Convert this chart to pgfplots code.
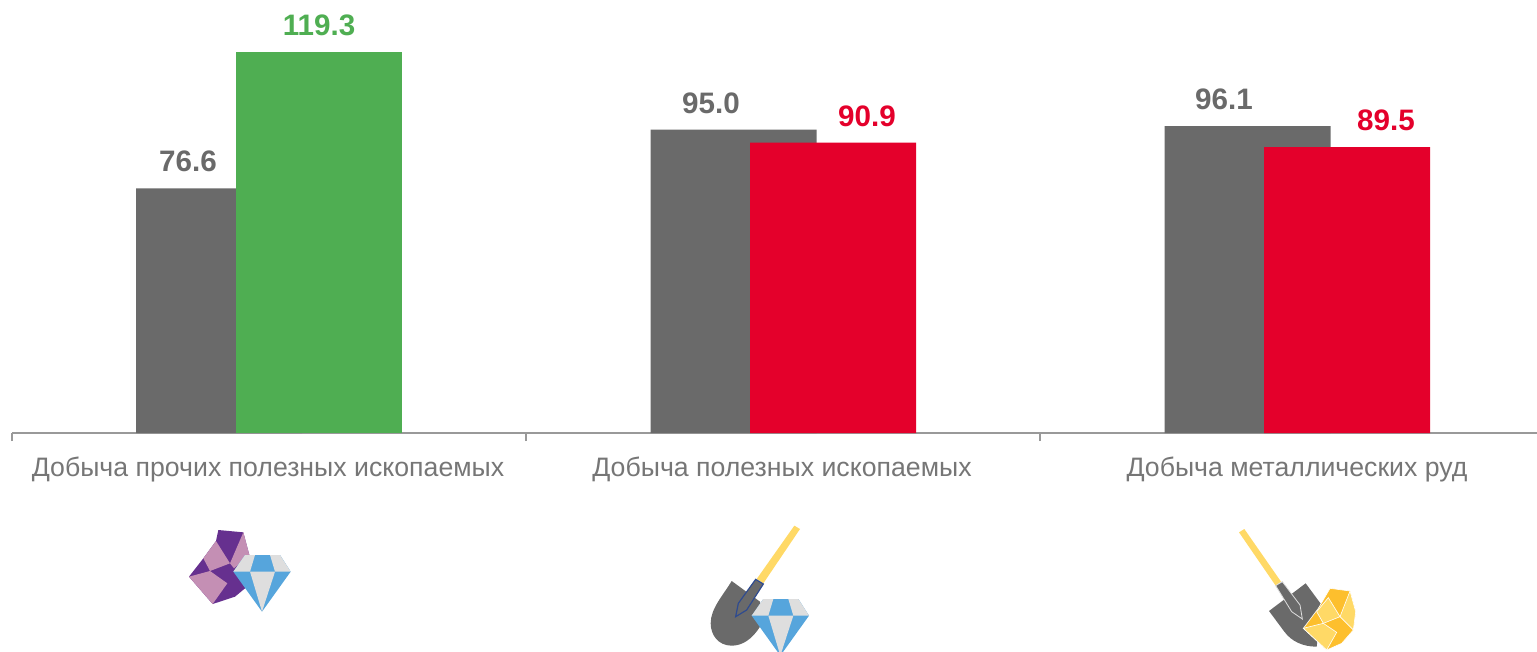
\documentclass[border=0pt]{standalone}
\usepackage{pgfplots}
\pgfplotsset{compat=1.18}
\usepackage{fontspec}
\setmainfont{Liberation Sans}
\definecolor{cgray}{HTML}{6A6A6A}
\definecolor{cgreen}{HTML}{4FAE52}
\definecolor{cred}{HTML}{E4002B}
\definecolor{ctxt}{HTML}{767676}
\definecolor{cpurple}{HTML}{66308F}
\definecolor{cpink}{HTML}{C48FB4}
\definecolor{cblue}{HTML}{56A5DC}
\definecolor{clgray}{HTML}{DEDEDE}
\definecolor{cyel}{HTML}{FFD966}
\definecolor{cgold}{HTML}{FDBF2D}
\definecolor{cnavy}{HTML}{2F4B8F}
\newcommand{\gem}[2]{%
 \begin{scope}[shift={(#1*0.5/3 pt,-#2*0.5/3 pt)}]
  \fill[cblue] (225,120)--(330,120)--(362,170)--(276,290)--(190,170)--cycle;
  \fill[clgray] (190,170)--(225,120)--(255,120)--(240,170)--cycle;
  \fill[clgray] (300,120)--(330,120)--(362,170)--(315,170)--cycle;
  \fill[clgray] (240,170)--(315,170)--(276,290)--cycle;
 \end{scope}}
\begin{document}
\begin{tikzpicture}[x=1pt,y=1pt]
\path[use as bounding box] (0,0) rectangle (768.5pt,-326pt);
\begin{axis}[
  at={(6pt,-216.5pt)}, anchor=origin, scale only axis,
  width=762.5pt, height=216.5pt,
  xmin=12, xmax=1537, ymin=0, ymax=135.6,
  clip=false,
  axis y line=none,
  axis x line*=bottom,
  axis line style={draw=black!40!white, line width=0.75pt},
  xtick={268,782,1297},
  xticklabels={Добыча прочих полезных ископаемых,Добыча полезных ископаемых,Добыча металлических руд},
  major tick length=0pt,
  minor xtick={12,526,1040},
  minor tick length=4pt,
  tick align=outside,
  minor tick style={draw=black!40!white, line width=0.6pt},
  x tick label style={font=\fontsize{13.34}{16}\selectfont, text=ctxt, yshift=-8.5pt},
  ybar, bar width=83pt, bar shift=0pt,
]
\addplot[fill=cgray, draw=none] coordinates {(219,76.6) (733.5,95.0) (1247.5,96.1)};
\addplot[fill=cgreen, draw=none] coordinates {(319,119.3)};
\addplot[fill=cred, draw=none] coordinates {(833,90.9) (1347,89.5)};
\addplot[draw=none, fill=none, nodes near coords, point meta=y,
  nodes near coords style={/pgf/number format/fixed, /pgf/number format/fixed zerofill, /pgf/number format/precision=1, /pgf/number format/assume math mode=true, font=\fontsize{14.8}{16}\selectfont\bfseries, text=cgray, anchor=south, yshift=4.6pt}]
  coordinates {(188,76.6) (711,95.0) (1224,96.1)};
\addplot[draw=none, fill=none, nodes near coords, point meta=y,
  nodes near coords style={/pgf/number format/fixed, /pgf/number format/fixed zerofill, /pgf/number format/precision=1, /pgf/number format/assume math mode=true, font=\fontsize{14.8}{16}\selectfont\bfseries, text=cgreen, anchor=south, yshift=4.6pt}]
  coordinates {(319,119.3)};
\addplot[draw=none, fill=none, nodes near coords, point meta=y,
  nodes near coords style={/pgf/number format/fixed, /pgf/number format/fixed zerofill, /pgf/number format/precision=1, /pgf/number format/assume math mode=true, font=\fontsize{14.8}{16}\selectfont\bfseries, text=cred, anchor=south, yshift=4.6pt}]
  coordinates {(867,90.9) (1386,89.5)};
\end{axis}
% icon 1
\begin{scope}[shift={(85pt,-257.5pt)}, x=0.16667pt, y=-0.16667pt]
  \fill[cpurple] (145,45)--(220,52)--(238,120)--(225,220)--(195,245)--(128,267)--(57,185)--(100,130)--(138,78)--cycle;
  \fill[cpink] (138,78)--(180,145)--(120,168)--(100,130)--cycle;
  \fill[cpink] (220,52)--(180,145)--(192,160)--(238,120)--cycle;
  \fill[cpink] (57,185)--(120,168)--(172,205)--(128,267)--cycle;
  \gem{0}{0}
\end{scope}
% icon 2
\begin{scope}[shift={(347.5pt,-257.5pt)}, x=0.16667pt, y=-0.16667pt]
  \fill[cyel] (298,32)--(315,42)--(205,205)--(185,192)--cycle;
  \fill[cgray] (110,198)--(195,260)--(195,335) .. controls (170,375) and (140,392) .. (110,392) .. controls (70,392) and (47,360) .. (47,325) .. controls (47,280) and (85,240) .. (110,198)--cycle;
  \filldraw[fill=cgray, draw=cnavy, line width=0.6pt] (182,193)--(205,207)--(155,285)--(122,305)--(130,265)--cycle;
  \begin{scope}
   \clip (0,0) rectangle (390,411);
   \gem{-20}{132}
  \end{scope}
\end{scope}
% icon 3
\begin{scope}[shift={(612.5pt,-257.5pt)}, x=0.16667pt, y=-0.16667pt]
  \fill[cyel] (42,52)--(58,42)--(168,200)--(152,212)--cycle;
  \fill[cgray] (132,288)--(242,205)--(290,270)--(275,395) .. controls (235,395) and (200,380) .. (178,350)--cycle;
  \filldraw[fill=cgray, draw=clgray, line width=0.4pt] (152,212)--(172,200)--(225,270)--(232,312)--(200,290)--cycle;
  \filldraw[fill=cgold, draw=white, line width=0.3pt] (315,220)--(375,228)--(392,290)--(385,345)--(350,385)--(305,405)--(235,340)--(280,280)--cycle;
  \filldraw[fill=cyel, draw=white, line width=0.3pt] (310,248)--(345,305)--(295,325)--(275,290)--cycle;
  \filldraw[fill=cyel, draw=white, line width=0.3pt] (375,228)--(392,290)--(385,345)--(345,305)--cycle;
  \filldraw[fill=cyel, draw=white, line width=0.3pt] (235,340)--(295,325)--(335,352)--(305,405)--cycle;
\end{scope}
\end{tikzpicture}
\end{document}
